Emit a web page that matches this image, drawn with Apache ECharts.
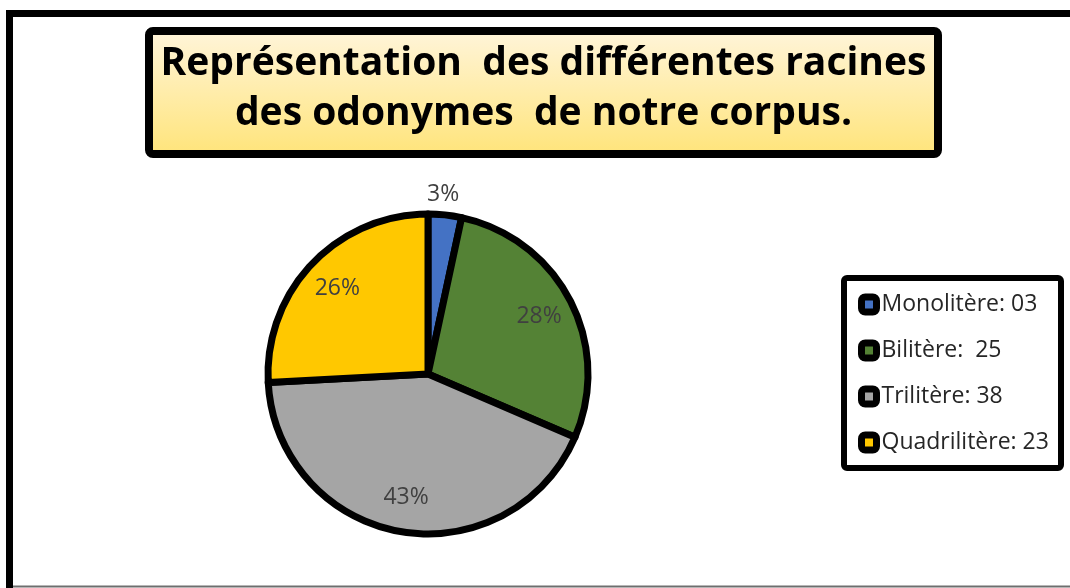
<!DOCTYPE html>
<html>
<head>
<meta charset="utf-8">
<script src="https://cdn.jsdelivr.net/npm/echarts@6/dist/echarts.min.js"></script>
<style>
  html, body { margin: 0; padding: 0; background: #ffffff; }
  #chart { width: 1070px; height: 588px; }
</style>
</head>
<body>
<div id="chart"></div>
<script>
// ---- Data ----
const categories = ['Monolitère', 'Bilitère', 'Trilitère', 'Quadrilitère'];
const values = [3, 25, 38, 23];
const legendLabels = ['Monolitère: 03', 'Bilitère:  25', 'Trilitère: 38', 'Quadrilitère: 23'];
const colors = ['#4472C4', '#548235', '#A5A5A5', '#FFC800'];
const titleLines = ['Représentation  des différentes racines', 'des odonymes  de notre corpus.'];

// ---- Chart ----
const chart = echarts.init(document.getElementById('chart'), null, { renderer: 'canvas' });

const FONT = '"Open Sans", "Noto Sans", sans-serif';
const CENTER = [428, 374];
const R = 160;

const mainData = categories.map((name, i) => ({
  name: name,
  value: values[i],
  itemStyle: { color: colors[i] },
  label: { show: i === 0 }
}));

const labelData = categories.map((name, i) => ({
  name: name,
  value: values[i],
  label: { show: i !== 0 }
}));

const option = {
  animation: false,
  backgroundColor: '#ffffff',
  color: colors,
  graphic: [
    // outer frame
    { type: 'rect', z: 0, silent: true,
      shape: { x: 9.5, y: 13.5, width: 1200, height: 700 },
      style: { fill: '#ffffff', stroke: '#000000', lineWidth: 7 } },
    { type: 'line', z: 1, silent: true,
      shape: { x1: 13, y1: 586.5, x2: 1070, y2: 586.5 },
      style: { stroke: '#6e6e6e', lineWidth: 2 } },
    // title box
    { type: 'rect', z: 2, silent: true,
      shape: { x: 149, y: 31, width: 789, height: 123, r: 4 },
      style: {
        fill: new echarts.graphic.LinearGradient(0, 0, 0, 1, [
          { offset: 0, color: '#FFF5DC' },
          { offset: 1, color: '#FFE478' }
        ]),
        stroke: '#000000', lineWidth: 8
      } },
    { type: 'text', z: 3, silent: true,
      style: { text: titleLines[0], x: 543.5, y: 64, align: 'center', verticalAlign: 'middle',
               font: 'bold 39px "Open Sans", sans-serif', fill: '#000000' } },
    { type: 'text', z: 3, silent: true,
      style: { text: titleLines[1], x: 543.5, y: 114, align: 'center', verticalAlign: 'middle',
               font: 'bold 39px "Open Sans", sans-serif', fill: '#000000' } },
    // legend box
    { type: 'rect', z: 2, silent: true,
      shape: { x: 844, y: 278, width: 217, height: 190, r: 3 },
      style: { fill: '#ffffff', stroke: '#000000', lineWidth: 6 } }
  ],
  legend: {
    orient: 'vertical',
    left: 858,
    top: 293,
    padding: 0,
    itemWidth: 15,
    itemHeight: 15,
    itemGap: 23,
    icon: 'roundRect',
    itemStyle: { borderColor: '#000000', borderWidth: 7 },
    data: categories,
    formatter: function (name) { return legendLabels[categories.indexOf(name)]; },
    textStyle: { fontFamily: FONT, fontSize: 23, color: '#262626', lineHeight: 15 }
  },
  series: [
    {
      type: 'pie',
      center: CENTER,
      radius: R,
      startAngle: 90,
      clockwise: true,
      percentPrecision: 0,
      avoidLabelOverlap: false,
      silent: true,
      itemStyle: { borderColor: '#000000', borderWidth: 7 },
      label: {
        position: 'outside',
        formatter: '{d}%',
        fontFamily: FONT, fontSize: 23, color: '#404040',
        distanceToLabelLine: 0
      },
      labelLine: { show: false, length: 21, length2: 0 },
      labelLayout: function (params) {
        return { align: 'center', dx: -4 };
      },
      data: mainData
    },
    {
      type: 'pie',
      center: CENTER,
      radius: [84, R],
      startAngle: 90,
      clockwise: true,
      percentPrecision: 0,
      silent: true,
      avoidLabelOverlap: false,
      itemStyle: { color: 'rgba(0,0,0,0)', borderWidth: 0 },
      label: {
        position: 'inside',
        formatter: '{d}%',
        fontFamily: FONT, fontSize: 23, color: '#404040'
      },
      labelLine: { show: false },
      data: labelData
    }
  ]
};

chart.setOption(option);
</script>
</body>
</html>
